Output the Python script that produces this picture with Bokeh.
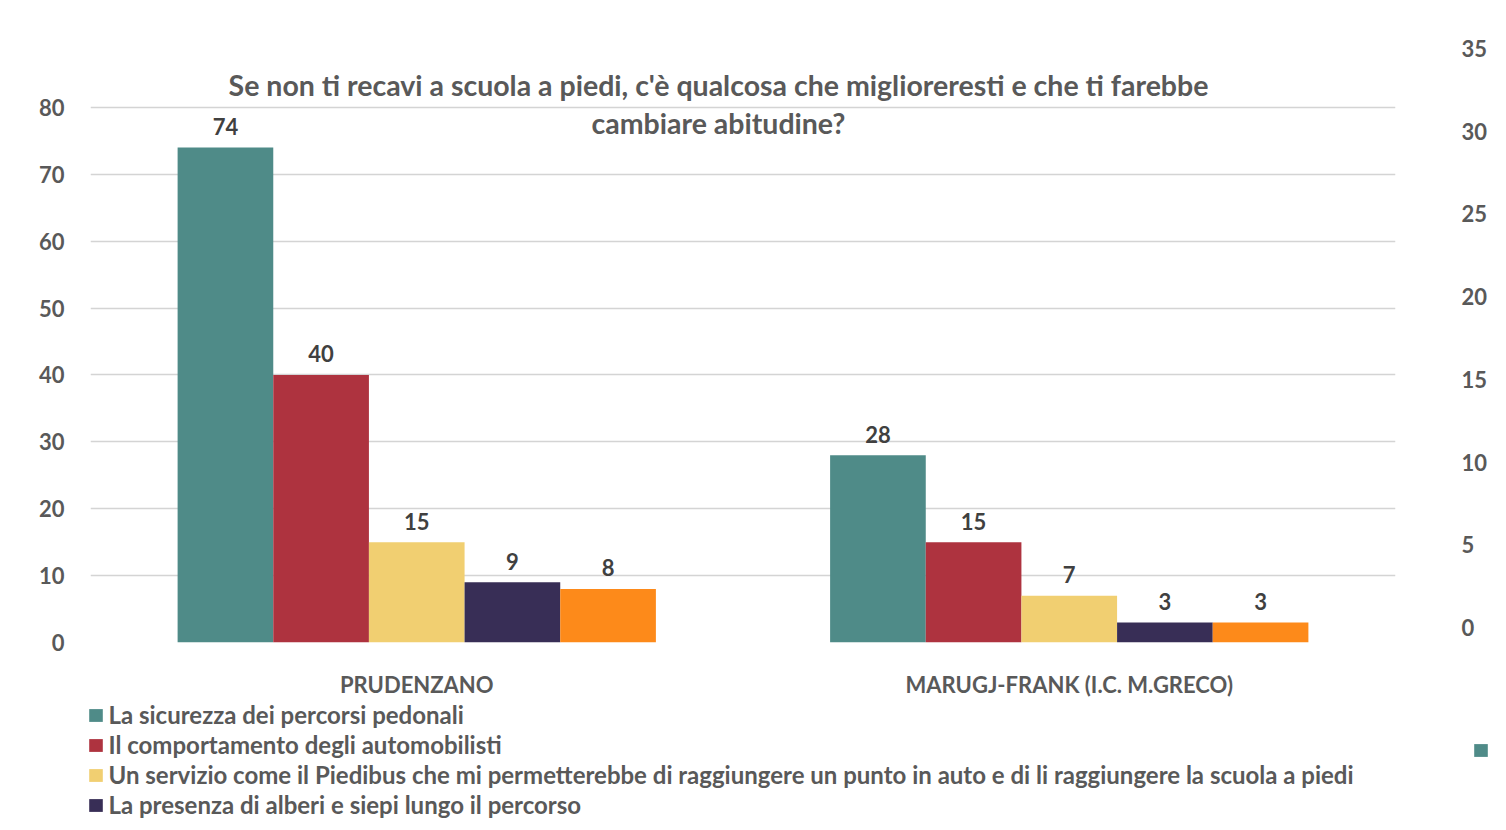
from bokeh.plotting import figure
from bokeh.models import (ColumnDataSource, Range1d, FactorRange, LinearAxis,
                          FixedTicker, Legend, LegendItem, Label, LabelSet)
from bokeh.layouts import column
from bokeh.transform import dodge
from bokeh.embed import file_html
from bokeh.resources import INLINE
from bokeh.core.properties import value

# ---- data ----
categories = ["PRUDENZANO", "MARUGJ-FRANK (I.C. M.GRECO)"]
series_names = [
    "La sicurezza dei percorsi pedonali",
    "Il comportamento degli automobilisti",
    "Un servizio come il Piedibus che mi permetterebbe di raggiungere un punto in auto e di li raggiungere la scuola a piedi",
    "La presenza di alberi e siepi lungo il percorso",
    "Altro",
]
sicurezza = [74, 28]
comportamento = [40, 15]
piedibus = [15, 7]
alberi = [9, 3]
altro = [8, 3]
series_values = [sicurezza, comportamento, piedibus, alberi, altro]
colors = ["#4F8B88", "#AE333F", "#F1CF71", "#382E56", "#FD8A1A"]
left_ticks = [0, 10, 20, 30, 40, 50, 60, 70, 80]
right_ticks = [0, 5, 10, 15, 20, 25, 30, 35]
title_lines = ["Se non ti recavi a scuola a piedi, c'è qualcosa che miglioreresti e che ti farebbe",
               "cambiare abitudine?"]

FONT = "Lato"
GREY = "#595959"
W = 1490

data = {"cat": categories}
for i, vals in enumerate(series_values):
    data[f"s{i}"] = vals
    data[f"t{i}"] = [str(v) for v in vals]
src = ColumnDataSource(data)

p = figure(x_range=FactorRange(*categories, range_padding=0), y_range=Range1d(0, 90),
           width=W, height=700, output_backend="svg", toolbar_location=None,
           min_border_left=90, min_border_right=93, min_border_top=40, min_border_bottom=47)
p.outline_line_color = None
p.xgrid.visible = False
p.ygrid.grid_line_color = "#D4D4D4"
p.ygrid.grid_line_width = 1.5

bw = 0.1466
offsets = [-2 * bw, -bw, 0, bw, 2 * bw]
for i in range(5):
    p.vbar(x=dodge("cat", offsets[i], range=p.x_range), top=f"s{i}", width=bw,
           source=src, fill_color=colors[i], line_color=None)
    lbl = LabelSet(x=dodge("cat", offsets[i], range=p.x_range), y=f"s{i}", text=f"t{i}",
                   source=src, y_offset=21, text_align="center", text_baseline="middle",
                   text_font=value(FONT), text_font_size="22px", text_font_style="bold",
                   text_color="#404040")
    p.add_layout(lbl)

# axes
for ax in [p.xaxis[0], p.yaxis[0]]:
    ax.axis_line_color = None
    ax.major_tick_line_color = None
    ax.minor_tick_line_color = None
    ax.major_label_text_font = FONT
    ax.major_label_text_font_size = "22px"
    ax.major_label_text_font_style = "bold"
    ax.major_label_text_color = GREY
p.yaxis[0].ticker = FixedTicker(ticks=left_ticks)
p.yaxis[0].major_label_standoff = 20
p.xaxis[0].major_label_standoff = 22

p.extra_y_ranges = {"right": Range1d(-0.89, 35.47)}
rax = LinearAxis(y_range_name="right", ticker=FixedTicker(ticks=right_ticks))
rax.axis_line_color = None
rax.major_tick_line_color = None
rax.minor_tick_line_color = None
rax.major_label_text_font = FONT
rax.major_label_text_font_size = "22px"
rax.major_label_text_font_style = "bold"
rax.major_label_text_color = GREY
rax.major_label_standoff = 60
p.add_layout(rax, "right")

# title inside the plot area
p.add_layout(Label(x=628, y=558, x_units="screen", y_units="screen", text=title_lines[0],
                   text_align="center", text_baseline="middle", text_font=FONT,
                   text_font_size="28.5px", text_font_style="bold", text_color=GREY))
p.add_layout(Label(x=628, y=520, x_units="screen", y_units="screen", text=title_lines[1],
                   text_align="center", text_baseline="middle", text_font=FONT,
                   text_font_size="28.5px", text_font_style="bold", text_color=GREY))

# ---- legend strip below the chart ----
H2 = 122
p2 = figure(x_range=FactorRange(*categories), y_range=Range1d(1000, 1001), width=W, height=H2,
            output_backend="svg", toolbar_location=None,
            x_axis_location=None, y_axis_location=None,
            min_border_left=0, min_border_right=0, min_border_top=0, min_border_bottom=0)
p2.outline_line_color = None
p2.grid.visible = False
leg_renderers = [p2.vbar(x="cat", top=f"s{i}", width=0.1, source=src,
                         fill_color=colors[i], line_color=None) for i in range(5)]

unaligned = "frame_align" in p2.properties()
if unaligned:
    p.frame_align = False
    p2.frame_align = False
xoff = 0 if unaligned else 90


def style_legend(lg):
    lg.background_fill_alpha = 0
    lg.border_line_color = None
    lg.padding = 0
    lg.margin = 0
    lg.spacing = 1
    lg.label_height = 22
    lg.glyph_height = 16
    lg.glyph_width = 17
    lg.label_standoff = 5
    lg.label_text_font = FONT
    lg.label_text_font_size = "24px"
    lg.label_text_font_style = "bold"
    lg.label_text_color = GREY


legend = Legend(items=[LegendItem(label=series_names[i], renderers=[leg_renderers[i]]) for i in range(5)],
                location=(86.5 - xoff, -27))
style_legend(legend)
p2.add_layout(legend, "center")

legend2 = Legend(items=[LegendItem(label="A", renderers=[leg_renderers[0]])], location=(1472 - xoff, 57.5))
style_legend(legend2)
legend2.label_text_font_style = "bold italic"
p2.add_layout(legend2, "center")

layout = column(p, p2, spacing=0)
open("out.html", "w").write(file_html(layout, INLINE))
